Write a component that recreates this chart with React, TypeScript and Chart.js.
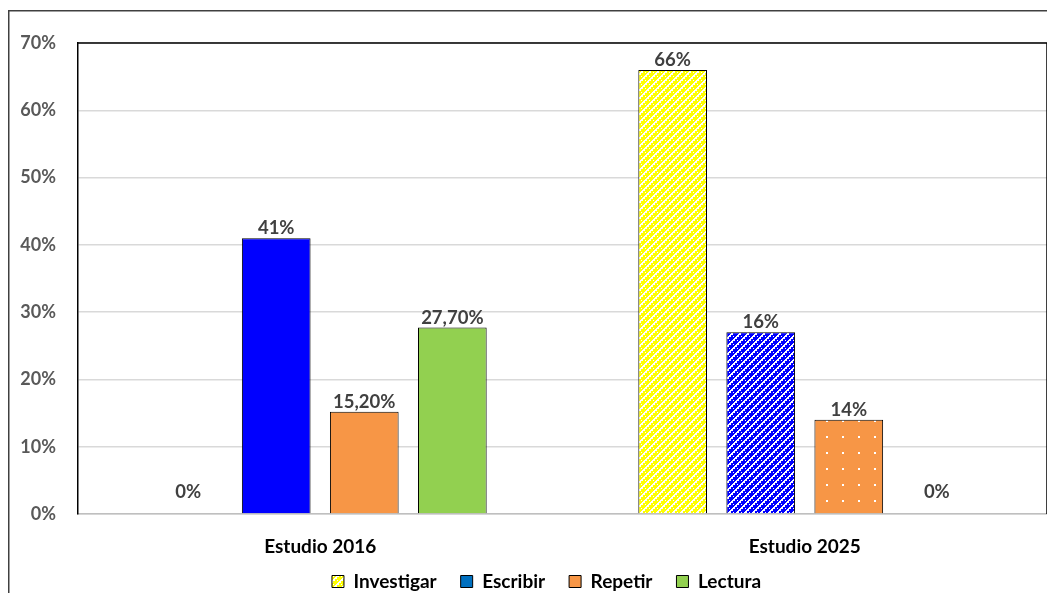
import React, { useEffect, useRef } from "react";
import { Chart, registerables } from "chart.js";

Chart.register(...registerables);

const categories = ["Estudio 2016", "Estudio 2025"];
const seriesNames = ["Investigar", "Escribir", "Repetir", "Lectura"];
const investigar = [0, 66];
const escribir = [41, 27];
const repetir = [15.2, 14];
const lectura = [27.7, 0];
const investigarLabels = ["0%", "66%"];
const escribirLabels = ["41%", "16%"];
const repetirLabels = ["15,20%", "14%"];
const lecturaLabels = ["27,70%", "0%"];
const yTicks = [0, 10, 20, 30, 40, 50, 60, 70];

const FONT = "Lato, 'Open Sans', sans-serif";

function makeStripePattern(color: string): CanvasPattern | string {
  const c = document.createElement("canvas");
  c.width = 8;
  c.height = 8;
  const ctx = c.getContext("2d");
  if (!ctx) return color;
  ctx.fillStyle = color;
  ctx.fillRect(0, 0, 8, 8);
  ctx.fillStyle = "#ffffff";
  for (let x = 0; x < 8; x++) {
    for (let y = 0; y < 8; y++) {
      const d = (x + y) % 8;
      if (d === 0 || d === 1 || (d === 2 && x % 2 === 0) || (d === 5 && x % 4 === 1)) ctx.fillRect(x, y, 1, 1);
    }
  }
  return ctx.createPattern(c, "repeat") || color;
}

function makeDotPattern(color: string): CanvasPattern | string {
  const c = document.createElement("canvas");
  c.width = 16;
  c.height = 16;
  const ctx = c.getContext("2d");
  if (!ctx) return color;
  ctx.fillStyle = color;
  ctx.fillRect(0, 0, 16, 16);
  ctx.fillStyle = "#ffffff";
  ctx.fillRect(2, 12, 2, 2);
  return ctx.createPattern(c, "repeat") || color;
}

export default function App() {
  const ref = useRef<HTMLCanvasElement | null>(null);

  useEffect(() => {
    if (!ref.current) return;
    const yellowPat = makeStripePattern("#FFFF00");
    const bluePat = makeStripePattern("#0000FF");
    const orangeDots = makeDotPattern("#F79646");

    const valueLabels = [investigarLabels, escribirLabels, repetirLabels, lecturaLabels];
    const legendColors: any[] = [yellowPat, "#0070C0", "#F79646", "#92D050"];

    const bw = (ctx: any) => (ctx.raw === 0 ? 0 : 1);

    const framePlugin = {
      id: "frame",
      afterLayout(chart: any) {
        const lg = chart.legend;
        if (lg) {
          lg.left += 19;
          lg.right += 19;
        }
        const xs = chart.scales.x;
        if (xs) xs._computeLabelArea = () => null;
      },
      beforeDraw(chart: any) {
        const ctx = chart.ctx;
        ctx.save();
        ctx.fillStyle = "#ffffff";
        ctx.fillRect(0, 0, chart.width, chart.height);
        ctx.strokeStyle = "#404040";
        ctx.lineWidth = 1.5;
        ctx.beginPath();
        ctx.moveTo(0.75, chart.height);
        ctx.lineTo(0.75, 2.75);
        ctx.lineTo(chart.width, 2.75);
        ctx.stroke();
        ctx.restore();
      },
      afterDatasetsDraw(chart: any) {
        const ctx = chart.ctx;
        const a = chart.chartArea;
        ctx.save();
        ctx.strokeStyle = "#000000";
        ctx.lineWidth = 1.5;
        ctx.beginPath();
        ctx.moveTo(a.left, a.top);
        ctx.lineTo(a.right, a.top);
        ctx.lineTo(a.right, a.bottom);
        ctx.stroke();
        // data labels
        ctx.font = `bold 18.5px ${FONT}`;
        ctx.fillStyle = "#404040";
        ctx.textAlign = "center";
        ctx.textBaseline = "alphabetic";
        chart.data.datasets.forEach((ds: any, di: number) => {
          const meta = chart.getDatasetMeta(di);
          meta.data.forEach((bar: any, i: number) => {
            const v = ds.data[i];
            const y = v === 0 ? bar.y - 16 : bar.y - 4;
            ctx.fillText(valueLabels[di][i], bar.x, y);
          });
        });
        ctx.restore();
      },
    };

    const chart = new Chart(ref.current, {
      type: "bar",
      data: {
        labels: categories,
        datasets: [
          { label: seriesNames[0], data: investigar, backgroundColor: ["#FFFF00", yellowPat] as any, borderColor: "#000", borderWidth: bw },
          { label: seriesNames[1], data: escribir, backgroundColor: ["#0000FF", bluePat] as any, borderColor: "#000", borderWidth: bw },
          { label: seriesNames[2], data: repetir, backgroundColor: ["#F79646", orangeDots] as any, borderColor: "#000", borderWidth: bw },
          { label: seriesNames[3], data: lectura, backgroundColor: ["#92D050", "#92D050"], borderColor: "#000", borderWidth: bw },
        ],
      },
      options: {
        animation: false,
        responsive: false,
        maintainAspectRatio: false,
        layout: { padding: { left: 0, top: 35, right: 8, bottom: -8 } },
        datasets: { bar: { categoryPercentage: 0.727, barPercentage: 0.78 } },
        plugins: {
          tooltip: { enabled: false },
          legend: {
            position: "bottom",
            labels: {
              font: { family: FONT, size: 19, weight: "bold" },
              color: "#000000",
              boxWidth: 12,
              boxHeight: 12,
              padding: 24,
              generateLabels: () =>
                seriesNames.map((n, i) => ({
                  text: n,
                  fillStyle: legendColors[i],
                  strokeStyle: "#000000",
                  lineWidth: 1,
                  hidden: false,
                  datasetIndex: i,
                })),
            },
          },
        },
        scales: {
          x: {
            grid: { display: false },
            border: { display: true, color: "#BFBFBF", width: 1.5 },
            ticks: { font: { family: FONT, size: 19, weight: "bold" }, color: "#000000", padding: 13 },
            afterFit: (s: any) => { s.height = 34; },
          },
          y: {
            min: 0,
            max: 70,
            afterBuildTicks: (s: any) => { s.ticks = yTicks.map((v) => ({ value: v })); },
            grid: { color: "#D9D9D9", lineWidth: 1.5, drawTicks: false },
            border: { display: true, color: "#000000", width: 1.5 },
            ticks: {
              font: { family: FONT, size: 18, weight: "bold" },
              color: "#595959",
              padding: 22,
              callback: (v: any) => `${v}%`,
            },
            afterFit: (s: any) => { s.width = 70; },
          },
        },
      },
      plugins: [framePlugin],
    });
    return () => chart.destroy();
  }, []);

  return (
    <div style={{ width: 1047, height: 585 }}>
      <canvas ref={ref} width={1047} height={585} style={{ display: "block" }} />
    </div>
  );
}
